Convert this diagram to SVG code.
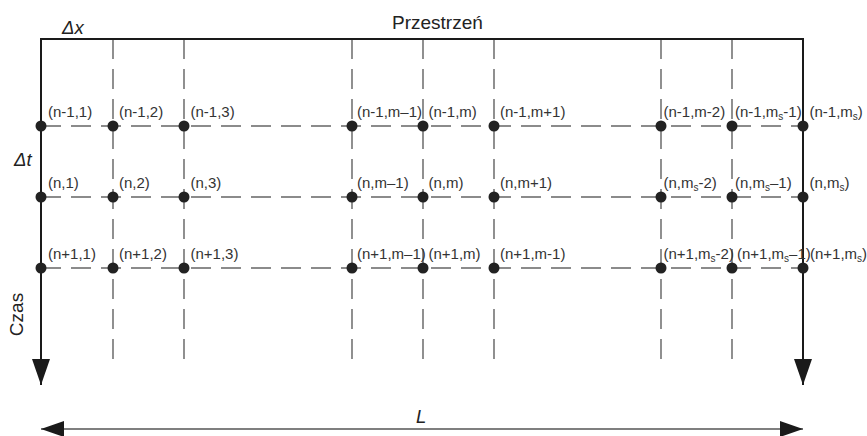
<svg xmlns="http://www.w3.org/2000/svg" width="867" height="436" viewBox="0 0 867 436">
<style>
.lbl{font-family:"Liberation Sans",Arial,sans-serif;font-size:15px;fill:#333}
.ttl{font-family:"Liberation Sans",Arial,sans-serif;font-size:19px;fill:#222}
.it{font-family:"Liberation Sans",Arial,sans-serif;font-size:18.5px;font-style:italic;fill:#222}
.sub{font-size:10px}
.dv{stroke:#555;stroke-width:1.3;stroke-dasharray:20 10;fill:none}
.dh{stroke:#666;stroke-width:1.3;stroke-dasharray:20 10;fill:none}
.axis{stroke:#1a1a1a;stroke-width:2;fill:none}
.dot{fill:#222}
</style>
<defs>
<marker id="ah" viewBox="0 0 26 18" refX="26" refY="9" markerWidth="26" markerHeight="18" markerUnits="userSpaceOnUse" orient="auto-start-reverse">
<path d="M0,0 L26,9 L0,18 Z" fill="#1a1a1a"/>
</marker>
<marker id="ahL" viewBox="0 0 23 16" refX="23" refY="8" markerWidth="23" markerHeight="16" markerUnits="userSpaceOnUse" orient="auto-start-reverse">
<path d="M0,0 L23,8 L0,16 Z" fill="#1a1a1a"/>
</marker>
</defs>
<g id="connectors">
<path class="dv" d="M113,39V359M184,39V359M352,39V359M423,39V359M494,39V359M661,39V359M732,39V359"/>
<path class="dh" d="M41,126H803M41,197H803M41,268H803"/>
<path class="axis" d="M41,385V39H803V385"/>
<line x1="41" y1="39" x2="41" y2="385" stroke="#1a1a1a" stroke-width="2" marker-end="url(#ah)"/>
<line x1="803" y1="39" x2="803" y2="385" stroke="#1a1a1a" stroke-width="2" marker-end="url(#ah)"/>
<line x1="41" y1="429" x2="803" y2="429" stroke="#555" stroke-width="1.3" marker-start="url(#ahL)" marker-end="url(#ahL)"/>
</g>
<g id="titles">
<text class="it" x="62" y="34">Δx</text>
<text class="ttl" x="392" y="29">Przestrzeń</text>
<text class="it" x="14" y="166">Δt</text>
<text class="ttl" transform="translate(23,314.5) rotate(-90)" text-anchor="middle">Czas</text>
<text class="it" x="416" y="423">L</text>
</g>
<g id="row1">
<g id="n-n1-1"><circle class="dot" cx="41" cy="126" r="5.5"/><text class="lbl" x="48" y="116.5">(n-1,1)</text></g>
<g id="n-n1-2"><circle class="dot" cx="113" cy="126" r="5.5"/><text class="lbl" x="119" y="116.5">(n-1,2)</text></g>
<g id="n-n1-3"><circle class="dot" cx="184" cy="126" r="5.5"/><text class="lbl" x="190.5" y="116.5">(n-1,3)</text></g>
<g id="n-n1-mm1"><circle class="dot" cx="352" cy="126" r="5.5"/><text class="lbl" x="357" y="116.5">(n-1,m–1)</text></g>
<g id="n-n1-m"><circle class="dot" cx="423" cy="126" r="5.5"/><text class="lbl" x="428.5" y="116.5">(n-1,m)</text></g>
<g id="n-n1-mp1"><circle class="dot" cx="494" cy="126" r="5.5"/><text class="lbl" x="500" y="116.5">(n-1,m+1)</text></g>
<g id="n-n1-mm2"><circle class="dot" cx="661" cy="126" r="5.5"/><text class="lbl" x="663.5" y="116.5">(n-1,m-2)</text></g>
<g id="n-n1-msm1"><circle class="dot" cx="732" cy="126" r="5.5"/><text class="lbl" x="735" y="116.5">(n-1,m<tspan class="sub" dy="3">s</tspan><tspan dy="-3">-1)</tspan></text></g>
<g id="n-n1-ms"><circle class="dot" cx="803" cy="126" r="5.5"/><text class="lbl" x="809.5" y="116.5">(n-1,m<tspan class="sub" dy="3">s</tspan><tspan dy="-3">)</tspan></text></g>
</g>
<g id="row2">
<g id="n-n-1"><circle class="dot" cx="41" cy="197" r="5.5"/><text class="lbl" x="48" y="187.5">(n,1)</text></g>
<g id="n-n-2"><circle class="dot" cx="113" cy="197" r="5.5"/><text class="lbl" x="119" y="187.5">(n,2)</text></g>
<g id="n-n-3"><circle class="dot" cx="184" cy="197" r="5.5"/><text class="lbl" x="190.5" y="187.5">(n,3)</text></g>
<g id="n-n-mm1"><circle class="dot" cx="352" cy="197" r="5.5"/><text class="lbl" x="357" y="187.5">(n,m–1)</text></g>
<g id="n-n-m"><circle class="dot" cx="423" cy="197" r="5.5"/><text class="lbl" x="428.5" y="187.5">(n,m)</text></g>
<g id="n-n-mp1"><circle class="dot" cx="494" cy="197" r="5.5"/><text class="lbl" x="500" y="187.5">(n,m+1)</text></g>
<g id="n-n-msm2"><circle class="dot" cx="661" cy="197" r="5.5"/><text class="lbl" x="663.5" y="187.5">(n,m<tspan class="sub" dy="3">s</tspan><tspan dy="-3">-2)</tspan></text></g>
<g id="n-n-msm1"><circle class="dot" cx="732" cy="197" r="5.5"/><text class="lbl" x="735" y="187.5">(n,m<tspan class="sub" dy="3">s</tspan><tspan dy="-3">–1)</tspan></text></g>
<g id="n-n-ms"><circle class="dot" cx="803" cy="197" r="5.5"/><text class="lbl" x="809.5" y="187.5">(n,m<tspan class="sub" dy="3">s</tspan><tspan dy="-3">)</tspan></text></g>
</g>
<g id="row3">
<g id="n-p1-1"><circle class="dot" cx="41" cy="268" r="5.5"/><text class="lbl" x="48" y="258.5">(n+1,1)</text></g>
<g id="n-p1-2"><circle class="dot" cx="113" cy="268" r="5.5"/><text class="lbl" x="119" y="258.5">(n+1,2)</text></g>
<g id="n-p1-3"><circle class="dot" cx="184" cy="268" r="5.5"/><text class="lbl" x="190.5" y="258.5">(n+1,3)</text></g>
<g id="n-p1-mm1"><circle class="dot" cx="352" cy="268" r="5.5"/><text class="lbl" x="357" y="258.5">(n+1,m–1)</text></g>
<g id="n-p1-m"><circle class="dot" cx="423" cy="268" r="5.5"/><text class="lbl" x="428.5" y="258.5">(n+1,m)</text></g>
<g id="n-p1-mp1"><circle class="dot" cx="494" cy="268" r="5.5"/><text class="lbl" x="500" y="258.5">(n+1,m-1)</text></g>
<g id="n-p1-msm2"><circle class="dot" cx="661" cy="268" r="5.5"/><text class="lbl" x="663.5" y="258.5">(n+1,m<tspan class="sub" dy="3">s</tspan><tspan dy="-3">-2)</tspan></text></g>
<g id="n-p1-msm1"><circle class="dot" cx="732" cy="268" r="5.5"/><text class="lbl" x="737" y="258.5">(n+1,m<tspan class="sub" dy="3">s</tspan><tspan dy="-3">–1)</tspan></text></g>
<g id="n-p1-ms"><circle class="dot" cx="803" cy="268" r="5.5"/><text class="lbl" x="810" y="258.5">(n+1,m<tspan class="sub" dy="3">s</tspan><tspan dy="-3">)</tspan></text></g>
</g>
</svg>
